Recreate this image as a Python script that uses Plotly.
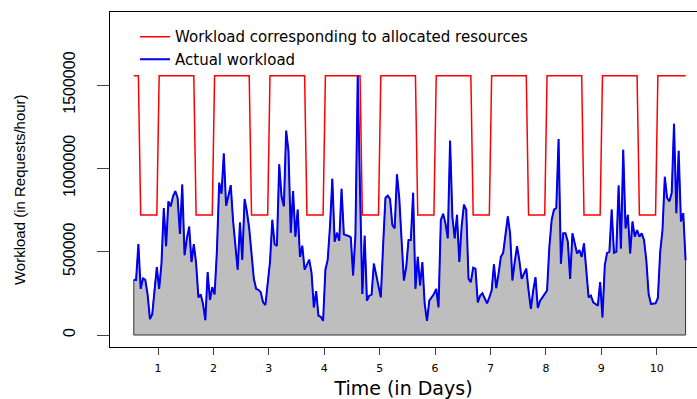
import plotly.graph_objects as go

# Hourly samples, first one at 13:30 on day 0
START_HOUR = 13.5

HIGH = 1555000
LOW = 720000

# Workload corresponding to the allocated resources (requests/hour), one value per hour
allocated = (
    [HIGH] * 3 + [LOW] * 8 +
    [HIGH] * 16 + [LOW] * 8 +
    [HIGH] * 16 + [LOW] * 8 +
    [HIGH] * 16 + [LOW] * 8 +
    [HIGH] * 16 + [LOW] * 8 +
    [HIGH] * 16 + [LOW] * 8 +
    [HIGH] * 16 + [LOW] * 8 +
    [HIGH] * 16 + [LOW] * 8 +
    [HIGH] * 16 + [LOW] * 8 +
    [HIGH] * 16 + [LOW] * 8 +
    [HIGH] * 13
)

# Actual workload (requests/hour), one value per hour
actual = [
    331000, 330000, 545000, 277000, 340000, 331000, 243000, 95000, 125000, 287000, 408000,
    277000, 428000, 762000, 533000, 802000, 772000, 832000, 863000, 822000, 606000, 903000,
    479000, 580000, 650000, 438000, 545000, 432000, 226000, 243000, 186000, 89000, 378000,
    210000, 287000,
    243000, 499000, 913000, 848000, 1089000, 776000, 836000, 899000, 687000, 539000, 392000,
    675000, 452000, 816000, 741000, 640000, 509000, 337000, 277000, 271000, 257000, 196000,
    180000, 307000,
    438000, 691000, 545000, 535000, 1024000, 832000, 772000, 1226000, 1105000, 614000, 863000,
    590000, 752000, 469000, 535000, 392000, 418000, 452000, 372000, 166000, 263000, 115000,
    109000, 85000,
    392000, 452000, 655000, 937000, 560000, 614000, 566000, 877000, 604000, 600000, 594000,
    586000, 358000, 600000, 1555000, 873000, 246000, 596000, 206000, 236000, 242000, 428000,
    358000, 291000,
    226000, 539000, 822000, 836000, 816000, 661000, 640000, 964000, 822000, 570000, 327000,
    408000, 570000, 570000, 853000, 277000, 469000, 297000, 438000, 186000, 85000, 206000,
    226000, 246000,
    277000, 166000, 691000, 727000, 671000, 580000, 1166000, 711000, 580000, 721000, 438000,
    650000, 782000, 752000, 337000, 317000, 404000, 398000, 196000, 236000, 250000, 216000,
    190000, 226000,
    267000, 424000, 281000, 368000, 469000, 493000, 610000, 711000, 610000, 327000, 438000,
    533000, 448000, 337000, 368000, 398000, 267000, 156000, 267000, 347000, 162000, 206000,
    226000, 246000,
    267000, 529000, 691000, 752000, 762000, 1176000, 428000, 610000, 610000, 560000, 337000,
    610000, 550000, 489000, 509000, 469000, 550000, 368000, 226000, 236000, 196000, 186000,
    176000, 317000,
    105000, 418000, 493000, 499000, 752000, 493000, 499000, 897000, 519000, 1111000, 640000,
    721000, 489000, 681000, 590000, 630000, 590000, 610000, 570000, 448000, 246000, 186000,
    190000, 190000,
    222000, 499000, 630000, 949000, 822000, 802000, 853000, 1267000, 731000, 1105000, 681000,
    731000, 448000,
]

day_ticks = [1, 2, 3, 4, 5, 6, 7, 8, 9, 10]
load_ticks = [0, 500000, 1000000, 1500000]
load_tick_text = ["0", "500000", "1000000", "1500000"]

days = [(START_HOUR + i) / 24 for i in range(len(actual))]

NARROW = "Liberation Sans, Arial, Helvetica, sans-serif"
WIDE = "DejaVu Sans, Verdana, sans-serif"

fig = go.Figure()

# Grey area under the actual workload, outlined in black
fig.add_trace(go.Scatter(
    x=[days[0]] + days + [days[-1], days[0]],
    y=[0] + actual + [0, 0],
    mode="lines",
    fill="toself",
    fillcolor="#BEBEBE",
    line=dict(color="#333333", width=1),
    showlegend=False,
    hoverinfo="skip",
))

fig.add_trace(go.Scatter(
    x=days, y=allocated, mode="lines",
    name="Workload corresponding to allocated resources",
    line=dict(color="#FF0000", width=1.5),
))

fig.add_trace(go.Scatter(
    x=days, y=actual, mode="lines",
    name="Actual workload",
    line=dict(color="#0000EE", width=2),
))

fig.update_layout(
    width=697, height=399,
    margin=dict(l=110, r=0, t=12, b=52),
    paper_bgcolor="white",
    plot_bgcolor="white",
    font=dict(family=NARROW, color="black"),
    legend=dict(
        x=0.0426, y=0.975, xanchor="left", yanchor="top",
        bgcolor="rgba(0,0,0,0)", borderwidth=0,
        font=dict(size=15, family=WIDE),
        tracegroupgap=0,
    ),
    xaxis=dict(
        range=[0.1336, 10.727],
        tickvals=day_ticks,
        ticks="outside", ticklen=7, tickwidth=1, tickcolor="#444444",
        showline=True, linecolor="black", linewidth=1, mirror=True,
        showgrid=False, zeroline=False,
        tickfont=dict(size=11, family=WIDE),
        ticklabelstandoff=4,
        title=dict(text="Time (in Days)", font=dict(size=19, family=WIDE), standoff=10),
    ),
    yaxis=dict(
        range=[-72000, 1938000],
        tickvals=load_ticks, ticktext=load_tick_text,
        tickangle=-90,
        ticks="outside", ticklen=12, tickwidth=1, tickcolor="#444444",
        showline=True, linecolor="black", linewidth=1,
        showgrid=False, zeroline=False,
        tickfont=dict(size=16, family=NARROW),
        ticklabelstandoff=16,
    ),
    annotations=[dict(
        text="Workload (in Requests/hour)",
        textangle=-90,
        xref="paper", yref="paper",
        x=-0.153, y=0.469,
        xanchor="center", yanchor="middle",
        showarrow=False,
        font=dict(size=15, family=NARROW),
    )],
)

fig.write_html("out.html")
